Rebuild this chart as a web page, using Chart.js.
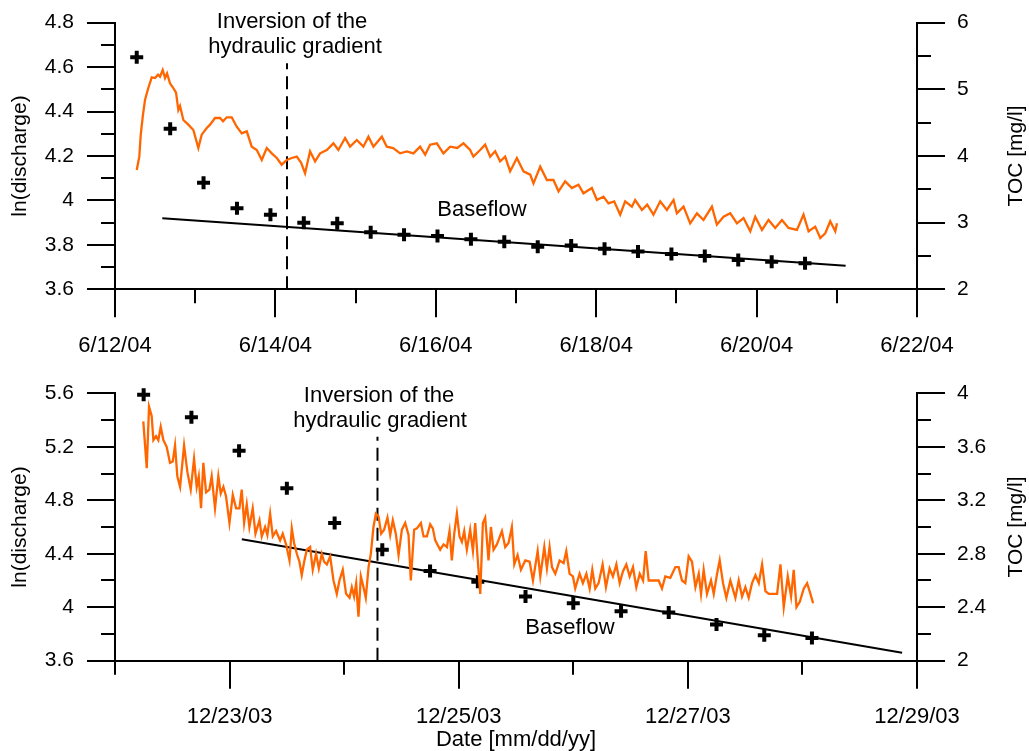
<!DOCTYPE html>
<html>
<head>
<meta charset="utf-8">
<script src="https://cdn.jsdelivr.net/npm/chart.js@4.4.1/dist/chart.umd.min.js"></script>
<style>
  html, body { margin: 0; padding: 0; background: #fff; }
  #wrap { position: relative; width: 1029px; height: 751px; }
  canvas { position: absolute; left: 0; }
  #topChart { top: 0; }
  #bottomChart { top: 375px; }
</style>
</head>
<body>
<div id="wrap">
  <canvas id="topChart" width="1029" height="375"></canvas>
  <canvas id="bottomChart" width="1029" height="376"></canvas>
</div>
<script>
// --- June 2004 event (days after 6/12/04 00:00) ---
const topDateDays = [0, 2, 4, 6, 8, 10];
const topDateLabels = ["6/12/04", "6/14/04", "6/16/04", "6/18/04", "6/20/04", "6/22/04"];

const topLnDays = [0.271, 0.688, 1.104, 1.521, 1.938, 2.354, 2.771, 3.188, 3.604, 4.021, 4.438,
  4.854, 5.271, 5.688, 6.104, 6.521, 6.938, 7.354, 7.771, 8.188, 8.604];
const topLnValues = [4.644, 4.323, 4.080, 3.965, 3.935, 3.900, 3.897, 3.857, 3.845, 3.840, 3.825,
  3.814, 3.792, 3.797, 3.782, 3.770, 3.759, 3.750, 3.732, 3.724, 3.717];

const topBaseDays = [0.59, 9.11];
const topBaseValues = [3.920, 3.706];

const topInversionDays = [2.145, 2.145];
const topInversionValues = [3.6, 4.617];

const topTocDays = [0.271, 0.303, 0.321, 0.346, 0.374, 0.415, 0.458, 0.499, 0.536, 0.561, 0.595,
  0.624, 0.649, 0.686, 0.727, 0.761, 0.790, 0.811, 0.852, 0.914, 0.977, 1.039, 1.081, 1.144,
  1.185, 1.247, 1.310, 1.347, 1.393, 1.456, 1.518, 1.580, 1.643, 1.705, 1.768, 1.830, 1.892,
  1.955, 2.017, 2.079, 2.142, 2.204, 2.266, 2.320, 2.370, 2.432, 2.495, 2.557, 2.641, 2.723,
  2.785, 2.869, 2.931, 3.015, 3.097, 3.160, 3.222, 3.327, 3.389, 3.468, 3.555, 3.639, 3.721,
  3.804, 3.867, 3.929, 4.013, 4.095, 4.179, 4.266, 4.345, 4.428, 4.469, 4.553, 4.615, 4.678,
  4.740, 4.802, 4.865, 4.927, 5.011, 5.093, 5.177, 5.218, 5.302, 5.385, 5.467, 5.530, 5.613,
  5.697, 5.779, 5.841, 5.946, 6.008, 6.091, 6.153, 6.224, 6.299, 6.361, 6.445, 6.486, 6.570,
  6.636, 6.714, 6.798, 6.882, 6.964, 7.006, 7.089, 7.172, 7.256, 7.338, 7.443, 7.505, 7.588,
  7.672, 7.755, 7.837, 7.921, 7.983, 8.067, 8.149, 8.232, 8.316, 8.398, 8.503, 8.585, 8.648,
  8.731, 8.794, 8.856, 8.918, 8.981, 9.002];
const topTocValues = [3.79, 3.99, 4.32, 4.59, 4.84, 5.02, 5.18, 5.17, 5.22, 5.19, 5.29,
  5.17, 5.24, 5.09, 5.02, 4.95, 4.69, 4.75, 4.54, 4.47, 4.39, 4.12, 4.32, 4.42,
  4.47, 4.57, 4.57, 4.52, 4.58, 4.58, 4.44, 4.34, 4.37, 4.14, 4.09, 3.94, 4.12,
  4.04, 3.97, 3.87, 3.94, 3.97, 3.99, 3.90, 3.74, 4.07, 3.92, 4.04, 4.09, 4.19,
  4.09, 4.27, 4.14, 4.24, 4.14, 4.29, 4.14, 4.29, 4.14, 4.12, 4.04, 4.07, 4.04,
  4.14, 4.02, 4.17, 4.19, 4.04, 4.14, 4.12, 4.19, 4.09, 3.99, 4.09, 4.17, 3.99,
  4.07, 3.92, 3.99, 3.77, 3.97, 3.77, 3.72, 3.59, 3.84, 3.64, 3.64, 3.47, 3.62,
  3.52, 3.57, 3.44, 3.52, 3.34, 3.39, 3.29, 3.32, 3.12, 3.32, 3.24, 3.34, 3.19,
  3.27, 3.12, 3.32, 3.19, 3.34, 3.14, 3.24, 2.99, 3.14, 3.04, 3.24, 2.97, 3.09,
  3.14, 2.99, 3.07, 2.87, 3.09, 2.89, 3.04, 2.92, 3.04, 2.92, 2.89, 3.12, 2.87,
  2.94, 2.77, 2.84, 3.02, 2.87, 2.99];

// --- December 2003 event (days after 12/22/03 00:00) ---
const bottomDateDays = [1, 3, 5, 7];
const bottomDateLabels = ["12/23/03", "12/25/03", "12/27/03", "12/29/03"];

const bottomLnDays = [0.25, 0.667, 1.083, 1.5, 1.917, 2.333, 2.75, 3.167, 3.583, 4.0, 4.417,
  4.833, 5.25, 5.667, 6.083];
const bottomLnValues = [5.59, 5.42, 5.17, 4.89, 4.63, 4.43, 4.27, 4.19, 4.08, 4.03, 3.97,
  3.96, 3.87, 3.79, 3.77];

const bottomBaseDays = [1.107, 6.87];
const bottomBaseValues = [4.508, 3.660];

const bottomInversionDays = [2.291, 2.291];
const bottomInversionValues = [3.6, 5.275];

const bottomTocDays = [0.247, 0.277, 0.297, 0.320, 0.335, 0.358, 0.378, 0.399, 0.422, 0.451,
  0.480, 0.504, 0.524, 0.544, 0.568, 0.603, 0.632, 0.661, 0.690, 0.713, 0.731, 0.751, 0.771,
  0.795, 0.824, 0.844, 0.873, 0.902, 0.923, 0.946, 0.969, 0.999, 1.028, 1.057, 1.086, 1.106,
  1.127, 1.150, 1.173, 1.202, 1.226, 1.261, 1.281, 1.310, 1.330, 1.354, 1.377, 1.406, 1.441,
  1.464, 1.493, 1.523, 1.543, 1.563, 1.587, 1.610, 1.630, 1.651, 1.674, 1.703, 1.726, 1.755,
  1.779, 1.805, 1.825, 1.849, 1.878, 1.907, 1.936, 1.959, 1.988, 2.017, 2.047, 2.067, 2.087,
  2.105, 2.125, 2.146, 2.169, 2.189, 2.213, 2.233, 2.256, 2.277, 2.300, 2.323, 2.349, 2.378,
  2.402, 2.425, 2.451, 2.475, 2.504, 2.533, 2.562, 2.582, 2.611, 2.635, 2.670, 2.693, 2.722,
  2.751, 2.774, 2.795, 2.838, 2.868, 2.897, 2.920, 2.940, 2.961, 2.984, 3.007, 3.028, 3.048,
  3.071, 3.100, 3.124, 3.144, 3.164, 3.188, 3.211, 3.231, 3.260, 3.281, 3.304, 3.333, 3.377,
  3.406, 3.435, 3.464, 3.485, 3.514, 3.543, 3.581, 3.619, 3.648, 3.689, 3.712, 3.747, 3.770,
  3.793, 3.814, 3.843, 3.881, 3.916, 3.939, 3.968, 3.997, 4.017, 4.055, 4.084, 4.114, 4.143,
  4.166, 4.192, 4.221, 4.256, 4.285, 4.317, 4.346, 4.376, 4.405, 4.434, 4.463, 4.492, 4.521,
  4.550, 4.580, 4.609, 4.632, 4.658, 4.702, 4.745, 4.774, 4.803, 4.847, 4.891, 4.920, 4.949,
  4.978, 5.007, 5.036, 5.066, 5.095, 5.115, 5.138, 5.167, 5.202, 5.226, 5.255, 5.278, 5.307,
  5.336, 5.371, 5.415, 5.444, 5.473, 5.502, 5.531, 5.560, 5.590, 5.619, 5.648, 5.677, 5.706,
  5.744, 5.779, 5.808, 5.837, 5.872, 5.901, 5.924, 5.948, 5.977, 6.012, 6.041, 6.070, 6.093];
const bottomTocValues = [3.79, 3.44, 3.90, 3.83, 3.65, 3.68, 3.65, 3.75, 3.65, 3.60,
  3.48, 3.49, 3.61, 3.38, 3.30, 3.61, 3.41, 3.28, 3.51, 3.30, 3.38, 3.14, 3.48,
  3.26, 3.28, 3.38, 3.14, 3.38, 3.25, 3.30, 3.23, 3.03, 3.24, 3.14, 3.14, 3.28,
  3.03, 3.17, 3.00, 3.14, 2.95, 3.05, 2.93, 3.00, 2.94, 3.10, 2.93, 2.97, 2.90,
  2.95, 2.87, 2.75, 2.99, 2.88, 2.80, 2.74, 2.64, 2.74, 2.83, 2.85, 2.68, 2.80,
  2.69, 2.80, 2.74, 2.72, 2.78, 2.60, 2.50, 2.60, 2.68, 2.50, 2.47, 2.55, 2.48,
  2.58, 2.33, 2.63, 2.55, 2.47, 2.70, 2.80, 3.00, 3.10, 3.08, 2.95, 2.98, 3.07,
  2.94, 3.05, 2.95, 2.79, 2.98, 3.03, 2.94, 2.60, 2.98, 2.99, 3.03, 2.93, 2.93,
  3.02, 2.99, 2.90, 2.83, 2.87, 2.85, 2.97, 2.75, 2.95, 3.10, 2.93, 2.89, 2.97,
  2.83, 2.98, 2.82, 3.03, 2.78, 2.50, 3.03, 3.07, 2.75, 3.00, 2.83, 2.87, 2.97,
  2.85, 2.88, 3.00, 2.72, 2.79, 2.68, 2.75, 2.74, 2.60, 2.82, 2.63, 2.85, 2.69,
  2.85, 2.70, 2.65, 2.75, 2.73, 2.82, 2.65, 2.63, 2.54, 2.65, 2.58, 2.65, 2.54,
  2.68, 2.54, 2.58, 2.72, 2.55, 2.69, 2.63, 2.72, 2.58, 2.67, 2.72, 2.63, 2.70,
  2.55, 2.65, 2.60, 2.82, 2.60, 2.60, 2.60, 2.54, 2.63, 2.62, 2.70, 2.70, 2.60,
  2.58, 2.78, 2.74, 2.55, 2.65, 2.50, 2.68, 2.50, 2.60, 2.50, 2.65, 2.75, 2.58,
  2.47, 2.60, 2.47, 2.60, 2.48, 2.55, 2.47, 2.58, 2.64, 2.58, 2.72, 2.52, 2.50,
  2.50, 2.50, 2.72, 2.40, 2.63, 2.48, 2.68, 2.40, 2.44, 2.54, 2.58, 2.50, 2.43];

const FONT = "'Liberation Sans', Arial, sans-serif";
const ORANGE = "#ff6600";

const pts = (xs, ys) => xs.map((x, i) => ({ x, y: ys[i] }));

// Outward tick marks, long for labelled ticks and short for the others
const tickMarks = {
  id: "tickMarks",
  afterDraw(chart) {
    const ctx = chart.ctx;
    const area = chart.chartArea;
    ctx.save();
    ctx.strokeStyle = "#000";
    ctx.lineWidth = 2;
    Object.values(chart.scales).forEach((scale) => {
      scale.ticks.forEach((t) => {
        const len = t.label !== "" ? 28 : 14;
        const p = Math.round(scale.getPixelForValue(t.value));
        ctx.beginPath();
        if (scale.axis === "x") {
          ctx.moveTo(p, area.bottom);
          ctx.lineTo(p, area.bottom + len);
        } else if (scale.position === "left") {
          ctx.moveTo(area.left, p);
          ctx.lineTo(area.left - len, p);
        } else {
          ctx.moveTo(area.right, p);
          ctx.lineTo(area.right + len, p);
        }
        ctx.stroke();
      });
    });
    ctx.restore();
  },
};

// Free text: vertical axis titles and notes inside the plot
const notes = {
  id: "notes",
  afterDraw(chart, args, opts) {
    const ctx = chart.ctx;
    const area = chart.chartArea;
    const midY = (area.top + area.bottom) / 2;
    ctx.save();
    ctx.fillStyle = "#000";
    ctx.font = "21px " + FONT;
    ctx.textAlign = "center";
    ctx.textBaseline = "middle";
    [[20, "ln(discharge)"], [1016, "TOC [mg/l]"]].forEach(([x, s]) => {
      ctx.save();
      ctx.translate(x, midY);
      ctx.rotate(-Math.PI / 2);
      ctx.fillText(s, 0, 0);
      ctx.restore();
    });
    ctx.font = "22px " + FONT;
    opts.texts.forEach(([s, x, y]) => ctx.fillText(s, x, y));
    ctx.restore();
  },
};

// hidden library ticks only reserve the gap between axis line and labels
const hiddenGrid = (gap) => ({ display: false, drawTicks: true, tickLength: gap });

const makeChart = (id, cfg) => {
  return new Chart(document.getElementById(id), {
    type: "line",
    data: {
      datasets: [
        {
          data: pts(cfg.tocDays, cfg.tocValues),
          yAxisID: "y2",
          borderColor: ORANGE,
          borderWidth: 2.3,
          pointRadius: 0,
          tension: 0,
        },
        {
          data: pts(cfg.baseDays, cfg.baseValues),
          yAxisID: "y",
          borderColor: "#000",
          borderWidth: 2,
          pointRadius: 0,
        },
        {
          data: pts(cfg.lnDays, cfg.lnValues),
          yAxisID: "y",
          showLine: false,
          pointStyle: "cross",
          pointRadius: 6.5,
          borderColor: "#000",
          borderWidth: 4,
          clip: false,
        },
        {
          data: pts(cfg.invDays, cfg.invValues),
          yAxisID: "y",
          borderColor: "#000",
          borderWidth: 2,
          borderDash: [13, 7],
          pointRadius: 0,
        },
      ],
    },
    options: {
      responsive: false,
      animation: false,
      devicePixelRatio: 1,
      layout: { padding: { top: cfg.padTop, left: 0, right: 0, bottom: 0 } },
      plugins: {
        legend: { display: false },
        tooltip: { enabled: false },
        notes: { texts: cfg.texts },
      },
      scales: {
        x: {
          type: "linear",
          min: cfg.xMin,
          max: cfg.xMax,
          grid: hiddenGrid(43),
          border: { display: true, color: "#000", width: 2 },
          afterFit: (s) => { s.height = cfg.xHeight; },
          title: cfg.xTitle
            ? { display: true, text: cfg.xTitle, color: "#000", font: { family: FONT, size: 22 }, padding: { top: 0, bottom: -2 } }
            : { display: false },
          ticks: {
            stepSize: 1,
            autoSkip: false,
            maxRotation: 0,
            padding: 0,
            color: "#000",
            font: { family: FONT, size: 22 },
            callback: (v) => {
              const i = cfg.dateDays.indexOf(Math.round(v));
              return i >= 0 ? cfg.dateLabels[i] : "";
            },
          },
        },
        y: {
          position: "left",
          min: cfg.lnMin,
          max: cfg.lnMax,
          grid: hiddenGrid(41),
          border: { display: true, color: "#000", width: 2 },
          afterFit: (s) => { s.width = 115; },
          ticks: {
            stepSize: cfg.lnStep,
            autoSkip: false,
            padding: 0,
            color: "#000",
            font: { family: FONT, size: 21 },
            callback: (v) => {
              const k = Math.round((v - cfg.lnMin) / cfg.lnStep);
              return k % 2 === 0 ? String(Math.round(v * 10) / 10) : "";
            },
          },
        },
        y2: {
          position: "right",
          min: cfg.tocMin,
          max: cfg.tocMax,
          grid: hiddenGrid(40),
          border: { display: true, color: "#000", width: 2 },
          afterFit: (s) => { s.width = 112; },
          ticks: {
            stepSize: cfg.tocStep,
            autoSkip: false,
            padding: 0,
            color: "#000",
            font: { family: FONT, size: 21 },
            callback: (v) => {
              const k = Math.round((v - cfg.tocMin) / cfg.tocStep);
              return k % 2 === 0 ? String(Math.round(v * 10) / 10) : "";
            },
          },
        },
      },
    },
    plugins: [tickMarks, notes],
  });
};

makeChart("topChart", {
  tocDays: topTocDays, tocValues: topTocValues,
  baseDays: topBaseDays, baseValues: topBaseValues,
  lnDays: topLnDays, lnValues: topLnValues,
  invDays: topInversionDays, invValues: topInversionValues,
  dateDays: topDateDays, dateLabels: topDateLabels,
  xMin: 0, xMax: 10,
  lnMin: 3.6, lnMax: 4.8, lnStep: 0.1,
  tocMin: 2, tocMax: 6, tocStep: 0.5,
  padTop: 22.7, xHeight: 85.7,
  texts: [["Inversion of the", 292, 22], ["hydraulic gradient", 295, 47], ["Baseflow", 482, 210]],
});

makeChart("bottomChart", {
  tocDays: bottomTocDays, tocValues: bottomTocValues,
  baseDays: bottomBaseDays, baseValues: bottomBaseValues,
  lnDays: bottomLnDays, lnValues: bottomLnValues,
  invDays: bottomInversionDays, invValues: bottomInversionValues,
  dateDays: bottomDateDays, dateLabels: bottomDateLabels,
  xMin: 0, xMax: 7,
  lnMin: 3.6, lnMax: 5.6, lnStep: 0.2,
  tocMin: 2, tocMax: 4, tocStep: 0.2,
  padTop: 18.3, xHeight: 90.3, xTitle: "Date [mm/dd/yy]",
  texts: [["Inversion of the", 379, 21], ["hydraulic gradient", 380, 46], ["Baseflow", 570, 253]],
});
</script>
</body>
</html>
